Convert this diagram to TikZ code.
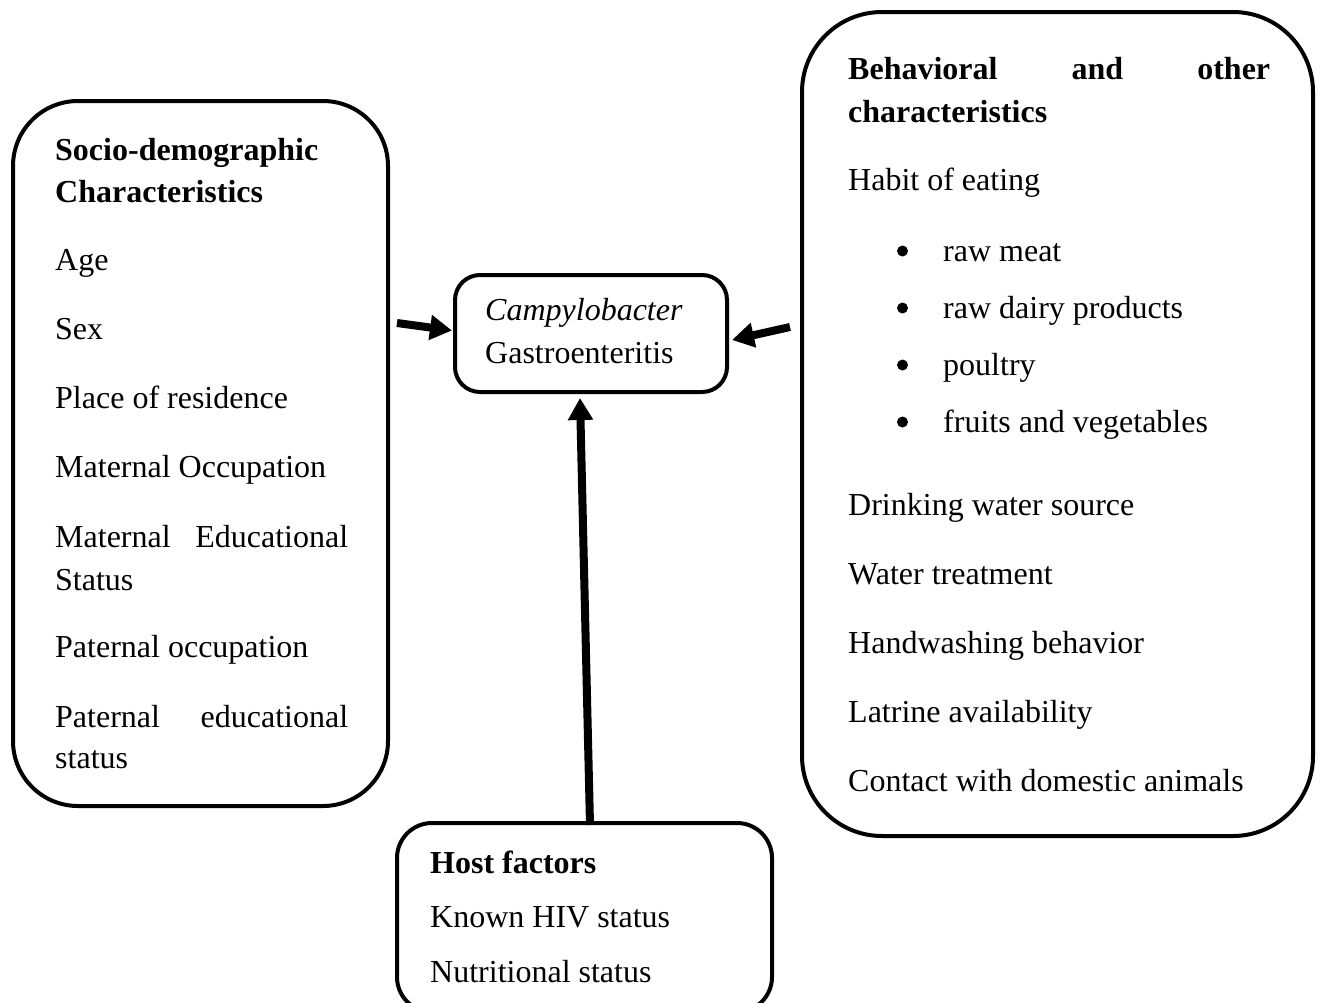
\documentclass[tikz,border=0pt]{standalone}
\usepackage{fontspec}
\setmainfont{Liberation Serif}
\usepackage{tikz}
\usetikzlibrary{arrows.meta, positioning, calc}

\begin{document}
\begin{tikzpicture}[x=1pt, y=-1pt,
    every node/.style={font=\fontsize{32}{38}\selectfont, inner sep=0pt},
    frame/.style={draw, line width=4pt, outer sep=0pt, rectangle},
    line/.style={anchor=base west},
    dot/.style={circle, fill, minimum size=11pt},
    fatarrow/.style={line width=8pt, -{Triangle[length=22pt,width=24pt]}}]
    \useasboundingbox (0,0) rectangle (1320,1002);
    \clip (0,0) rectangle (1320,1002);

    % the four boxes
    \node[frame, rounded corners=65pt, minimum width=375pt, minimum height=705pt] (socio) at (200.5,453.5) {};
    \node[frame, rounded corners=80pt, minimum width=511pt, minimum height=824pt] (behav) at (1057.5,424) {};
    \node[frame, rounded corners=25pt, minimum width=272pt, minimum height=117pt] (outcome) at (591,333.5) {};
    \node[frame, rounded corners=35pt, minimum width=375pt, minimum height=189pt] (host) at (584.5,917.5) {};

    % socio-demographic
    \node[line, font=\fontsize{32}{38}\selectfont\bfseries] (s-head1) at (55,160) {Socio-demographic};
    \node[line, font=\fontsize{32}{38}\selectfont\bfseries] (s-head2) at (55,202) {Characteristics};
    \foreach \y/\t [count=\i] in {270/Age, 339/Sex, 408/Place of residence, 477/Maternal Occupation,
        590/Status, 657/Paternal occupation, 768/status}
      \node[line] (s\i) at (55,\y) {\t};
    \node[line] (s-me) at (55,547) {\makebox[293pt][s]{Maternal Educational}};
    \node[line] (s-pe) at (55,727) {\makebox[293pt][s]{Paternal educational}};

    % behavioral
    \node[line, font=\fontsize{32}{38}\selectfont\bfseries] (b-head1) at (848,79) {\makebox[422pt][s]{Behavioral and other}};
    \node[line, font=\fontsize{32}{38}\selectfont\bfseries] (b-head2) at (848,122) {characteristics};
    \node[line] (b-habit) at (848,190) {Habit of eating};
    \foreach \y/\t [count=\i] in {261/raw meat, 318/raw dairy products, 375/poultry, 432/fruits and vegetables} {
      \node[dot] (dot\i) at (902.5,\y-10) {};
      \node[line] (food\i) at (943,\y) {\t};
    }
    \foreach \y/\t [count=\i] in {515/Drinking water source, 584/Water treatment, 653/Handwashing behavior,
        722/Latrine availability, 791/Contact with domestic animals}
      \node[line] (b\i) at (848,\y) {\t};

    % outcome
    \node[line, font=\fontsize{32}{38}\selectfont\itshape] (o1) at (485,320) {Campylobacter};
    \node[line] (o2) at (485,363) {Gastroenteritis};

    % host factors
    \node[line, font=\fontsize{32}{38}\selectfont\bfseries] (h-head) at (430,873) {Host factors};
    \node[line] (h1) at (430,927) {Known HIV status};
    \node[line] (h2) at (430,982) {Nutritional status};

    % arrows
    \coordinate (inL) at (397,323);
    \coordinate (inR) at (790,327);
    \draw[fatarrow] (inL) -- ([shift={(-3,-3)}]outcome.west);
    \draw[fatarrow] (inR) -- ([shift={(5,6.5)}]outcome.east);
    \draw[fatarrow] ([shift={(5.5,2)}]host.north) -- ([shift={(-11,6)}]outcome.south);
\end{tikzpicture}
\end{document}
